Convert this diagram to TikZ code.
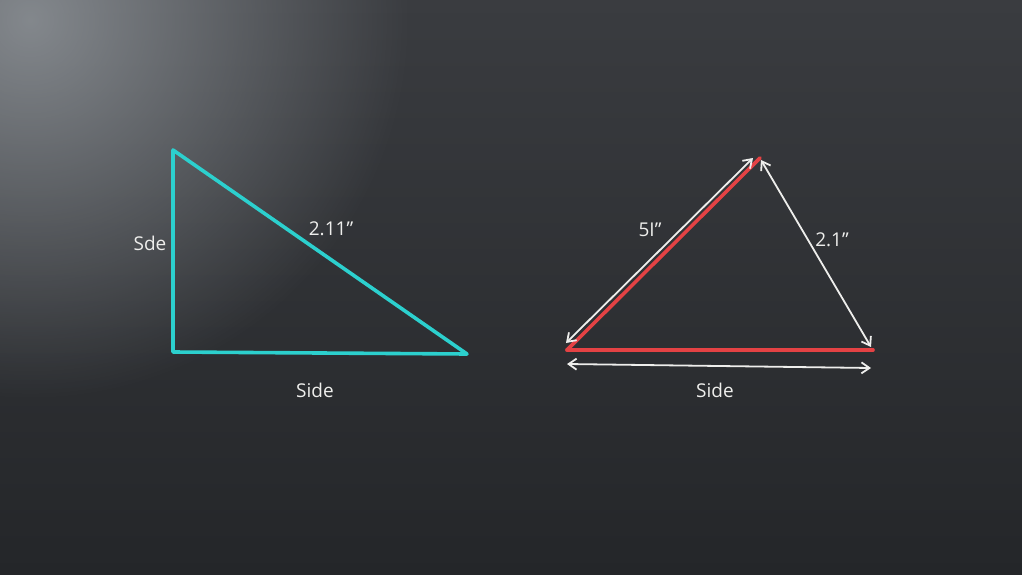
\documentclass[tikz,border=0pt]{standalone}
\usepackage{fontspec}
\setmainfont{Open Sans}
\usetikzlibrary{arrows.meta,fadings}
\definecolor{board}{RGB}{36,38,41}
\definecolor{boardtop}{RGB}{58,60,64}
\definecolor{glow}{RGB}{150,155,160}
\definecolor{chalkcyan}{RGB}{44,208,206}
\definecolor{chalkred}{RGB}{228,66,68}
\definecolor{chalk}{RGB}{238,238,236}
\tikzfading[name=glowfade, inner color=transparent!20, outer color=transparent!100]
\tikzset{
  cyanline/.style={draw=chalkcyan, line width=3.6pt, line join=round, line cap=round},
  redline/.style={draw=chalkred, line width=3.6pt, line cap=round},
  dimarrow/.style={draw=chalk, line width=1.8pt, {Straight Barb[length=8pt,width=11pt]}-{Straight Barb[length=8pt,width=11pt]}},
  chalklabel/.style={text=chalk, font=\fontsize{19}{22}\selectfont, inner sep=1pt}
}
\begin{document}
\begin{tikzpicture}[x=1pt,y=-1pt]
  \useasboundingbox (0,0) rectangle (1022,575);
  \shade[top color=boardtop, bottom color=board] (0,0) rectangle (1022,575);
  \begin{scope}
    \clip (0,0) rectangle (1022,575);
    \fill[glow, path fading=glowfade] (30,20) circle (380);
  \end{scope}
  % left triangle
  \coordinate (A) at (173,150);
  \coordinate (B) at (173,352);
  \coordinate (C) at (467,354);
  \draw[cyanline] (A) -- (B) -- (C) -- cycle;
  \node[chalklabel] (lside) at (150,243) {Sde};
  \node[chalklabel] (lhyp) at (331,229) {2.11"};
  \node[chalklabel] (lbase) at (315,390) {Side};
  % right triangle
  \coordinate (P) at (567,350);
  \coordinate (Q) at (760,158);
  \coordinate (R) at (873,350);
  \draw[redline] (P) -- (Q);
  \draw[redline] (P) -- (R);
  \coordinate (p1) at (566,343);
  \coordinate (q1) at (753,158);
  \draw[dimarrow] (p1) -- (q1);
  \coordinate (q2) at (761,160);
  \coordinate (r2) at (871,347);
  \draw[dimarrow] (q2) -- (r2);
  \coordinate (p3) at (567,364);
  \coordinate (r3) at (871,368);
  \draw[dimarrow] (p3) -- (r3);
  \node[chalklabel] (rleft) at (650,230) {5I"};
  \node[chalklabel] (rright) at (832,240) {2.1"};
  \node[chalklabel] (rbase) at (715,390) {Side};
\end{tikzpicture}
\end{document}
